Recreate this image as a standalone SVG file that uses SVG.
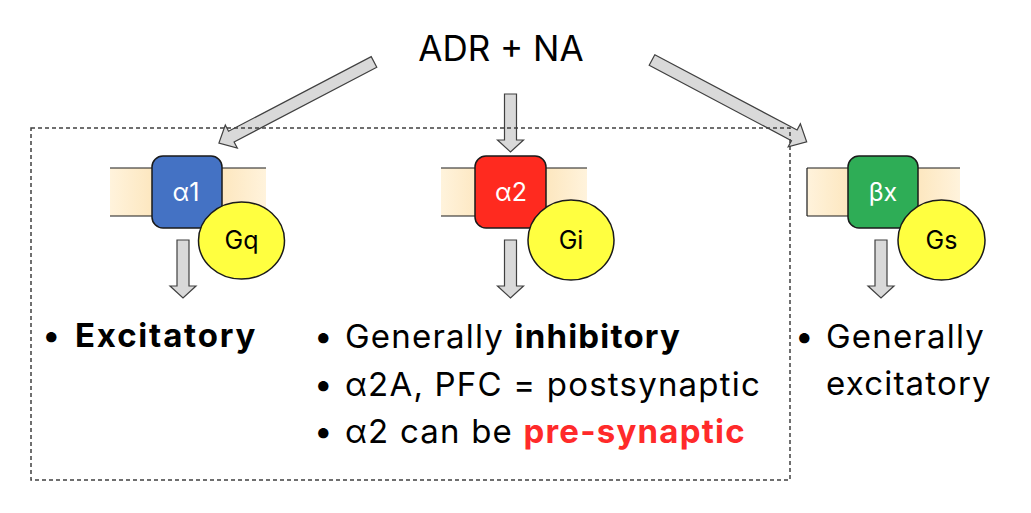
<svg xmlns="http://www.w3.org/2000/svg" width="1031" height="513" viewBox="0 0 1031 513">
<style>
.arrow{fill:#D9D9D9;stroke:#404040;stroke-width:1.2;stroke-linejoin:miter}
.mem{fill:url(#memg)}
.memline{stroke:#1a1a1a;stroke-width:1.2}
.rec{stroke:#1a1a1a;stroke-width:1.5}
.gp{fill:#FFFF40;stroke:#1a1a1a;stroke-width:1.5}
.rl{font-family:Inter,'Liberation Sans',sans-serif;font-size:25px;fill:#fff;text-anchor:middle}
.gl{font-family:Inter,'Liberation Sans',sans-serif;font-size:25px;fill:#000;text-anchor:middle}
.t{font-family:Inter,'Liberation Sans',sans-serif;font-size:33px;letter-spacing:1.2px;fill:#000}
.b{font-weight:bold}
.box{fill:none;stroke:#404040;stroke-width:1.5;stroke-dasharray:4 3}
</style>
<defs>
<linearGradient id="memg" x1="0" y1="0" x2="1" y2="0">
<stop offset="0" stop-color="#FFF3DC"/>
<stop offset="0.5" stop-color="#FBDDA8"/>
<stop offset="1" stop-color="#FFF3DC"/>
</linearGradient>
<path id="varrow" d="M-6,0 H6 V46 H13 L0,58 L-13,46 H-6 Z"/>
<path id="darrow" d="M0,-6 H161 V-13 L175,0 L161,13 V6 H0 Z"/>
</defs>
<rect width="1031" height="513" fill="#fff"/>
<text id="title" class="t" x="501" y="61" text-anchor="middle" style="font-size:35px;letter-spacing:0">ADR + NA</text>
<g id="connectors">
<use href="#darrow" class="arrow" transform="translate(374,62) rotate(152.4)"/>
<use href="#varrow" class="arrow" transform="translate(510.5,94)"/>
<use href="#darrow" class="arrow" transform="translate(652,60) rotate(27.9)"/>
<use href="#varrow" class="arrow" transform="translate(183,240)"/>
<use href="#varrow" class="arrow" transform="translate(510.5,240)"/>
<use href="#varrow" class="arrow" transform="translate(881,240)"/>
</g>
<rect id="group-box" class="box" x="31" y="128" width="759" height="352"/>
<g id="alpha1">
<rect class="mem" x="110" y="168" width="156" height="48"/>
<line class="memline" x1="110" y1="168" x2="266" y2="168"/>
<line class="memline" x1="110" y1="216" x2="266" y2="216"/>
<rect class="rec" x="152" y="156" width="70" height="72" rx="11" fill="#4472C4"/>
<text class="rl" x="186" y="201">α1</text>
<ellipse class="gp" cx="241.5" cy="240.5" rx="43" ry="38.5"/>
<text class="gl" x="241.5" y="249">Gq</text>
</g>
<g id="alpha2">
<rect class="mem" x="441" y="168" width="146" height="48"/>
<line class="memline" x1="441" y1="168" x2="587" y2="168"/>
<line class="memline" x1="441" y1="216" x2="587" y2="216"/>
<rect class="rec" x="475" y="156" width="71" height="72" rx="11" fill="#FF2A1F"/>
<text class="rl" x="511" y="201">α2</text>
<ellipse class="gp" cx="571" cy="240" rx="43" ry="40"/>
<text class="gl" x="571" y="249">Gi</text>
</g>
<g id="betax">
<rect class="mem" x="807" y="168" width="153" height="48"/>
<line class="memline" x1="807" y1="168" x2="960" y2="168"/>
<line class="memline" x1="807" y1="216" x2="960" y2="216"/>
<line class="memline" x1="807" y1="168" x2="807" y2="216"/>
<rect class="rec" x="848" y="156" width="70" height="72" rx="11" fill="#2EAD56"/>
<text class="rl" x="883" y="201">βx</text>
<ellipse class="gp" cx="941.5" cy="240" rx="43.5" ry="40"/>
<text class="gl" x="941.5" y="249">Gs</text>
</g>
<g id="text-alpha1">
<text class="t" x="42" y="347">•</text>
<text class="t b" x="75" y="347" style="letter-spacing:1.8px">Excitatory</text>
</g>
<g id="text-alpha2">
<text class="t" x="314" y="348">•</text>
<text class="t" x="345" y="348">Generally <tspan class="b">inhibitory</tspan></text>
<text class="t" x="314" y="396">•</text>
<text class="t" x="345" y="396">α2A, PFC = postsynaptic</text>
<text class="t" x="314" y="443">•</text>
<text class="t" x="345" y="443">α2 can be <tspan class="b" fill="#FF2A2A">pre-synaptic</tspan></text>
</g>
<g id="text-beta">
<text class="t" x="795" y="348">•</text>
<text class="t" x="826" y="348">Generally</text>
<text class="t" x="826" y="395">excitatory</text>
</g>
</svg>
